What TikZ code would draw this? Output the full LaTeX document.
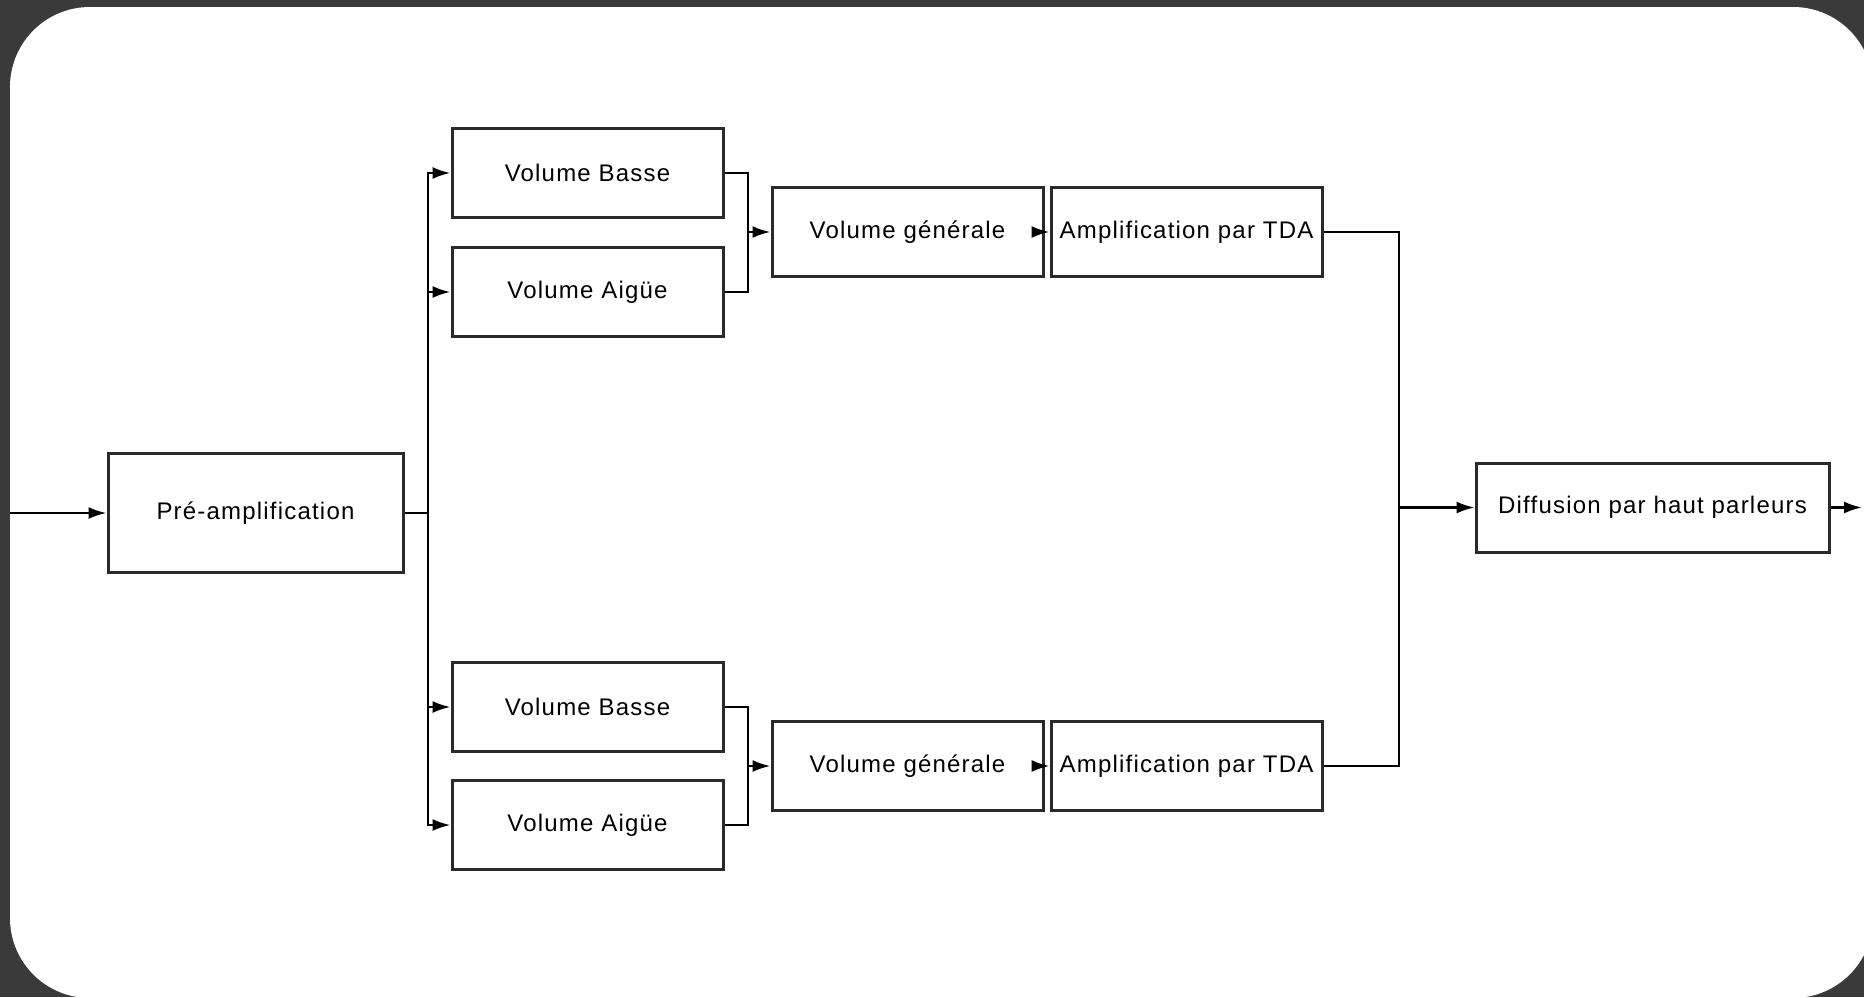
\documentclass[tikz,border=0pt]{standalone}
\usepackage{fontspec}
\setmainfont{Liberation Sans}[LetterSpace=5]
\usetikzlibrary{arrows.meta}
\definecolor{bg}{HTML}{3A3A3A}
\definecolor{edge}{HTML}{2A2A2A}
\begin{document}
\begin{tikzpicture}[x=0.5pt,y=-0.5pt,
  box/.style={draw=edge, line width=1.5pt, minimum height=44.5pt, inner sep=0pt,
    font=\fontsize{12}{14}\selectfont},
  vbox/.style={box, minimum width=135.5pt},
  link/.style={line width=1.2pt, black},
  arr/.style={link, -{Latex[length=9pt,width=6pt]}}]
\useasboundingbox (0,0) rectangle (1864,997);
\fill[bg] (0,0) rectangle (1864,997);
\fill[white, rounded corners=40pt] (10,7) rectangle (1873,998);

% nodes
\node[box, minimum width=147.5pt, minimum height=59.5pt] (pre) at (255.5,513) {Pré-amplification};
\node[vbox] (vb1) at (587.5,173) {Volume Basse};
\node[vbox] (va1) at (587.5,292) {Volume Aigüe};
\node[vbox] (vg1) at (907.5,232) {Volume générale};
\node[vbox] (tda1) at (1186.5,232) {Amplification par TDA};
\node[vbox] (vb2) at (587.5,707) {Volume Basse};
\node[vbox] (va2) at (587.5,825) {Volume Aigüe};
\node[vbox] (vg2) at (907.5,766) {Volume générale};
\node[vbox] (tda2) at (1186.5,766) {Amplification par TDA};
\node[box, minimum width=176.5pt] (diff) at (1652.5,507.5) {Diffusion par haut parleurs};

% junctions
\coordinate (in) at (10,513);
\coordinate (j1) at (428,513);
\coordinate (m1) at (748,232);
\coordinate (m2) at (748,766);
\coordinate (j2) at (1399,507.5);
\coordinate (out) at (1862,507.5);

% connectors
\draw[arr] (in) -- (pre.west);
\draw[link] (pre.east) -- (j1);
\draw[arr] (j1) |- (vb1.west);
\draw[arr] (j1) |- (va1.west);
\draw[arr] (j1) |- (vb2.west);
\draw[arr] (j1) |- (va2.west);

\draw[link] (vb1.east) -| (m1);
\draw[link] (va1.east) -| (m1);
\draw[arr] (m1) -- (vg1.west);
\draw[arr] (vg1.east) -- (tda1.west);

\draw[link] (vb2.east) -| (m2);
\draw[link] (va2.east) -| (m2);
\draw[arr] (m2) -- (vg2.west);
\draw[arr] (vg2.east) -- (tda2.west);

\draw[link] (tda1.east) -| (j2);
\draw[link] (tda2.east) -| (j2);
\draw[arr] (j2) -- (diff.west);
\draw[arr] (diff.east) -- (out);
\end{tikzpicture}
\end{document}
